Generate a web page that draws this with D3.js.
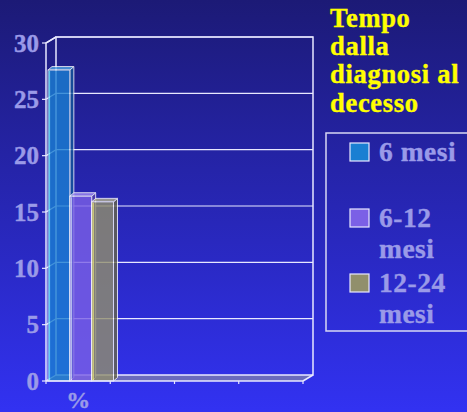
<!DOCTYPE html>
<html>
<head>
<meta charset="utf-8">
<script src="https://cdn.jsdelivr.net/npm/d3@7"></script>
<style>
  body { margin: 0; padding: 0; overflow: hidden; }
  text { font-family: "Liberation Serif", "Times New Roman", serif; font-weight: bold; }
</style>
</head>
<body>
<div id="chart"></div>
<script>
// Data
var categories = ["%"];
var slotCount = 4;               // the category axis has 4 slots, only the first is used
var seriesNames = ["6 mesi", "6-12 mesi", "12-24 mesi"];
var legendLines = [["6 mesi"], ["6-12", "mesi"], ["12-24", "mesi"]];
var seriesValues = [27.6, 16.4, 15.9];
var yTicks = [0, 5, 10, 15, 20, 25, 30];
var titleLines = ["Tempo", "dalla", "diagnosi al", "decesso"];

var svgWidth = 467;
var svgHeight = 412;

// front plane of the 3D box and the depth offset of the back wall
var plot = { left: 46, right: 303, top: 43, bottom: 381 };
var depth = { x: 10, y: -6 };
var barDepth = { x: 4, y: -3.5 };

var colors = [
  { face: "#1a7fd2", top: "#4fa6e6", side: "#13579a", stroke: "#70f0ff" },
  { face: "#7b60e6", top: "#9f88f2", side: "#5540a8", stroke: "#e0dcff" },
  { face: "#918f6c", top: "#b4b28c", side: "#66654a", stroke: "#ffff70" }
];

var labelColor = "#9a9ae8";
var lineColor = "#e8e8ff";

var svg = d3.select("#chart")
  .append("svg")
  .attr("width", svgWidth)
  .attr("height", svgHeight);

// background gradient
var defs = svg.append("defs");
var grad = defs.append("linearGradient")
  .attr("id", "bg")
  .attr("x1", 0).attr("y1", 0).attr("x2", 0).attr("y2", 1);
grad.append("stop").attr("offset", "0%").attr("stop-color", "#1c1a76");
grad.append("stop").attr("offset", "100%").attr("stop-color", "#3232f2");

svg.append("rect")
  .attr("width", svgWidth)
  .attr("height", svgHeight)
  .attr("fill", "url(#bg)");

// scales
var yScale = d3.scaleLinear()
  .domain([0, 30])
  .range([plot.bottom, plot.top]);

var xScale = d3.scaleBand()
  .domain(d3.range(slotCount))
  .range([plot.left, plot.right])
  .padding(0);

var xInner = d3.scaleBand()
  .domain(seriesNames)
  .range([2, 67.5])
  .padding(0);

// floor
svg.append("polygon")
  .attr("points", [
    [plot.left, plot.bottom],
    [plot.left + depth.x, plot.bottom + depth.y],
    [plot.right + depth.x, plot.bottom + depth.y],
    [plot.right, plot.bottom]
  ].map(p => p.join(",")).join(" "))
  .attr("fill", "#6a6abc")
  .attr("stroke", "none");

// back wall gridlines and side wall diagonals
var grid = svg.append("g");
grid.selectAll(".gridline")
  .data(yTicks.filter(d => d > 0))
  .enter()
  .append("line")
  .attr("x1", plot.left + depth.x)
  .attr("x2", plot.right + depth.x)
  .attr("y1", d => yScale(d) + depth.y)
  .attr("y2", d => yScale(d) + depth.y)
  .attr("stroke", lineColor)
  .attr("stroke-width", 1.2);

grid.selectAll(".diag")
  .data(yTicks)
  .enter()
  .append("line")
  .attr("x1", plot.left)
  .attr("x2", plot.left + depth.x)
  .attr("y1", d => yScale(d))
  .attr("y2", d => yScale(d) + depth.y)
  .attr("stroke", lineColor)
  .attr("stroke-width", 1.2);

// back wall frame
svg.append("path")
  .attr("d",
    "M" + (plot.left + depth.x) + "," + (plot.bottom + depth.y) +
    "V" + (plot.top + depth.y) +
    "H" + (plot.right + depth.x) +
    "V" + (plot.bottom + depth.y) +
    "H" + (plot.left + depth.x))
  .attr("fill", "none")
  .attr("stroke", lineColor)
  .attr("stroke-width", 1.5);

svg.append("line")
  .attr("x1", plot.right + depth.x).attr("y1", plot.bottom + depth.y)
  .attr("x2", plot.right).attr("y2", plot.bottom)
  .attr("stroke", lineColor).attr("stroke-width", 1.5);

// bars (3D boxes), translucent so the gridlines show through
var bars = svg.append("g");
seriesNames.forEach(function(name, i) {
  var v = seriesValues[i];
  var x0 = xScale(0) + xInner(name);
  var w = xInner.bandwidth();
  var yTop = yScale(v);
  var yBot = yScale(0);
  var c = colors[i];
  var g = bars.append("g").attr("opacity", 0.8);

  // right side face
  g.append("polygon")
    .attr("points", [
      [x0 + w, yTop], [x0 + w + barDepth.x, yTop + barDepth.y],
      [x0 + w + barDepth.x, yBot + barDepth.y], [x0 + w, yBot]
    ].map(p => p.join(",")).join(" "))
    .attr("fill", c.side)
    .attr("stroke", "#ffffff").attr("stroke-width", 1);

  // top face
  g.append("polygon")
    .attr("points", [
      [x0, yTop], [x0 + barDepth.x, yTop + barDepth.y],
      [x0 + w + barDepth.x, yTop + barDepth.y], [x0 + w, yTop]
    ].map(p => p.join(",")).join(" "))
    .attr("fill", c.top)
    .attr("stroke", "#ffffff").attr("stroke-width", 1);

  // front face
  g.append("rect")
    .attr("x", x0)
    .attr("y", yTop)
    .attr("width", w)
    .attr("height", yBot - yTop)
    .attr("fill", c.face)
    .attr("stroke", "#ffffff")
    .attr("stroke-width", 1);

  // coloured left edge
  g.append("line")
    .attr("x1", x0 + 1.5).attr("x2", x0 + 1.5)
    .attr("y1", yTop + 1).attr("y2", yBot)
    .attr("stroke", c.stroke).attr("stroke-width", 1.2);
});

// front axis lines
svg.append("path")
  .attr("d",
    "M" + plot.left + "," + plot.bottom +
    "V" + plot.top +
    "L" + (plot.left + depth.x) + "," + (plot.top + depth.y))
  .attr("fill", "none")
  .attr("stroke", lineColor)
  .attr("stroke-width", 1.5);

svg.append("line")
  .attr("x1", plot.left).attr("x2", plot.right)
  .attr("y1", plot.bottom).attr("y2", plot.bottom)
  .attr("stroke", lineColor).attr("stroke-width", 1.5);

// y axis ticks and labels
var yAxis = svg.append("g");
yAxis.selectAll(".ytick")
  .data(yTicks)
  .enter()
  .append("line")
  .attr("x1", plot.left - 4).attr("x2", plot.left)
  .attr("y1", d => yScale(d)).attr("y2", d => yScale(d))
  .attr("stroke", lineColor).attr("stroke-width", 1.2);

yAxis.selectAll(".ylabel")
  .data(yTicks)
  .enter()
  .append("text")
  .attr("x", plot.left - 7)
  .attr("y", d => yScale(d) + 8.5)
  .attr("text-anchor", "end")
  .attr("font-size", 25)
  .attr("fill", labelColor)
  .attr("stroke", labelColor)
  .attr("stroke-width", 0.4)
  .text(d => d);

// x axis ticks and labels
var xTickPos = d3.range(slotCount).map(i => xScale(i)).concat([plot.right]);
svg.selectAll(".xtick")
  .data(xTickPos)
  .enter()
  .append("line")
  .attr("x1", d => d).attr("x2", d => d)
  .attr("y1", plot.bottom).attr("y2", plot.bottom + 3)
  .attr("stroke", lineColor).attr("stroke-width", 1.2);

svg.selectAll(".xlabel")
  .data(d3.range(slotCount))
  .enter()
  .append("text")
  .attr("x", d => xScale(d) + xScale.bandwidth() / 2)
  .attr("y", 408)
  .attr("text-anchor", "middle")
  .attr("font-size", 24)
  .attr("fill", labelColor)
  .attr("stroke", labelColor)
  .attr("stroke-width", 0.4)
  .text(d => categories[d] || "");

// title
svg.append("g").selectAll("text")
  .data(titleLines)
  .enter()
  .append("text")
  .attr("x", 330)
  .attr("y", (d, i) => 27 + i * 28.2)
  .attr("font-size", 26.5)
  .attr("letter-spacing", 0.7)
  .attr("fill", "#ffff00")
  .attr("stroke", "#ffff00")
  .attr("stroke-width", 0.4)
  .text(d => d);

// legend
var legend = svg.append("g");
legend.append("rect")
  .attr("x", 326)
  .attr("y", 133)
  .attr("width", 160)
  .attr("height", 198)
  .attr("fill", "none")
  .attr("stroke", "#d8d8f4")
  .attr("stroke-width", 1.5);

var legendY = [143, 209, 274];
legendLines.forEach(function(lines, i) {
  legend.append("rect")
    .attr("x", 350)
    .attr("y", legendY[i])
    .attr("width", 19)
    .attr("height", 18)
    .attr("fill", colors[i].face)
    .attr("stroke", "#e8e8ff")
    .attr("stroke-width", 1.2);
  lines.forEach(function(t, j) {
    legend.append("text")
      .attr("x", 379)
      .attr("y", legendY[i] + 18 + j * 31)
      .attr("font-size", 27.5)
      .attr("letter-spacing", 0.5)
      .attr("fill", labelColor)
      .attr("stroke", labelColor)
      .attr("stroke-width", 0.4)
      .text(t);
  });
});
</script>
</body>
</html>
